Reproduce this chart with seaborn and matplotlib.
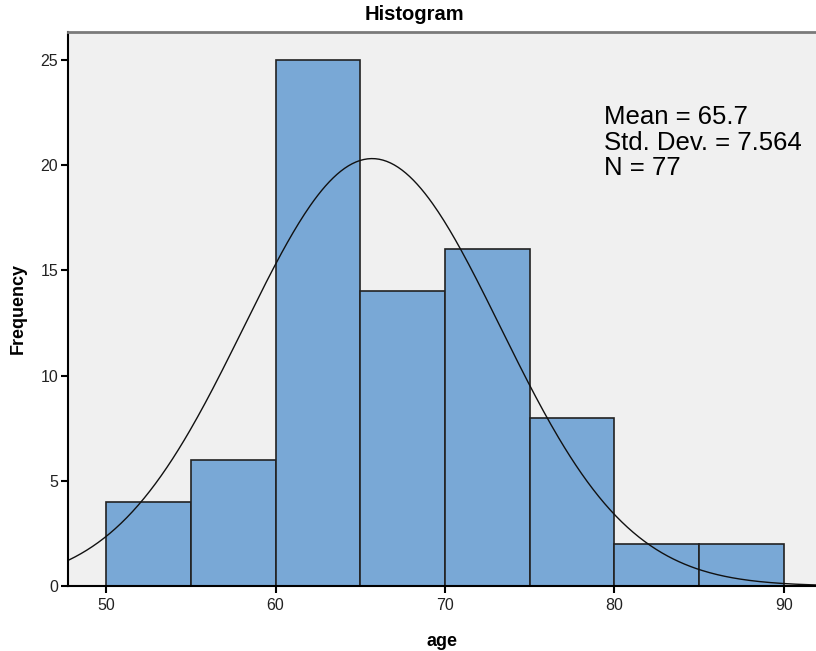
import numpy as np
import matplotlib
matplotlib.use("Agg")
import matplotlib.pyplot as plt
import seaborn as sns

# histogram of age (bins of 5 years)
bin_edges = [50, 55, 60, 65, 70, 75, 80, 85, 90]
bin_counts = [4, 6, 25, 14, 16, 8, 2, 2]
mean_age = 65.7
sd_age = 7.564
n_obs = 77

sns.set_style("white")
plt.rcParams['font.family'] = ['Liberation Sans', 'DejaVu Sans']
plt.rcParams['text.color'] = 'black'
plt.rcParams['axes.labelcolor'] = 'black'

fig = plt.figure(figsize=(8.16, 6.51), dpi=100)
ax = fig.add_axes([68 / 816, 65 / 651, 1 - 68 / 816, 554 / 651])
ax.set_facecolor("#f0f0f0")

mids = [(a + b) / 2 for a, b in zip(bin_edges[:-1], bin_edges[1:])]
sns.histplot(x=mids, weights=bin_counts, bins=bin_edges, ax=ax,
             color="#79a8d6", alpha=1, edgecolor="#222222", linewidth=1.2)

# normal curve scaled to counts
xs = np.linspace(47.5, 92.5, 400)
ys = n_obs * 5 * np.exp(-0.5 * ((xs - mean_age) / sd_age) ** 2) / (sd_age * np.sqrt(2 * np.pi))
sns.lineplot(x=xs, y=ys, ax=ax, color="#111111", linewidth=1)

ax.set_xlim(47.75, 91.9)
ax.set_ylim(0, 26.32)
ax.set_xticks([50, 60, 70, 80, 90])
ax.set_yticks([0, 5, 10, 15, 20, 25])

for lab in ax.get_xticklabels() + ax.get_yticklabels():
    lab.set_family(['Liberation Sans Narrow', 'Liberation Sans'])
    lab.set_fontsize(11.5)
    lab.set_color("#222222")
ax.tick_params(axis='both', bottom=True, left=True, direction='out',
               length=5, width=1.5, color="black", pad=2)
ax.tick_params(axis='x', pad=4)

ax.set_xlabel("age", fontsize=13, fontweight="bold", labelpad=14)
ax.set_ylabel("Frequency", fontsize=13, fontweight="bold", labelpad=10)

for s in ["left", "bottom"]:
    ax.spines[s].set_color("black")
    ax.spines[s].set_linewidth(1.5)
ax.spines["top"].set_color("#7a7a7a")
ax.spines["top"].set_linewidth(2)
ax.spines["right"].set_visible(False)

fig.text(414 / 816, 1 - 15 / 651, "Histogram", ha="center", va="center",
         fontsize=14.5, fontweight="bold")

ax.text(0.716, 0.868,
        f"Mean = {mean_age}\nStd. Dev. = {sd_age}\nN = {n_obs}",
        transform=ax.transAxes, ha="left", va="top", fontsize=18.5,
        linespacing=1.08, color="black")

fig.savefig("out.png", dpi=100)
